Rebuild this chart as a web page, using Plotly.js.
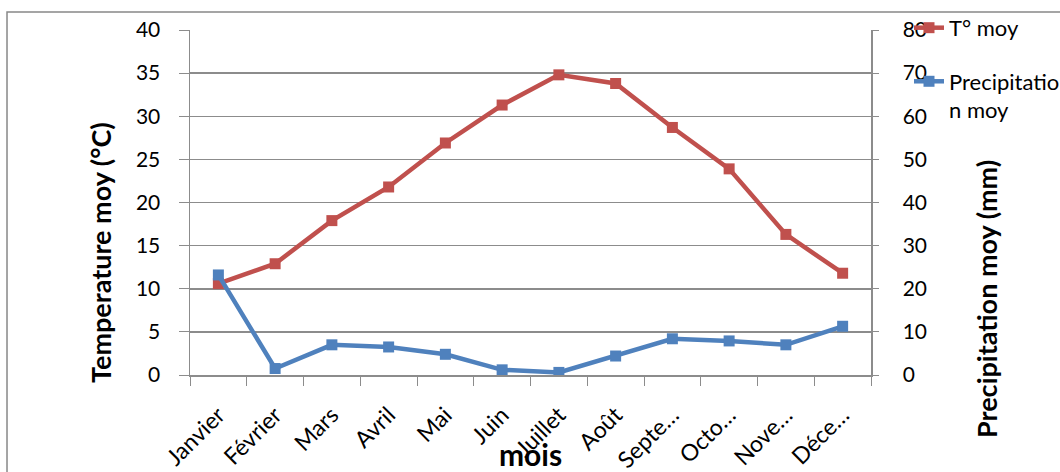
<!DOCTYPE html>
<html><head><meta charset="utf-8">
<script src="https://cdn.plot.ly/plotly-3.0.1.min.js"></script>
<style>html,body{margin:0;padding:0;background:#fff}#c{width:1060px;height:472px}</style>
</head><body><div id="c"></div>
<script>
const months = ["Janvier","Février","Mars","Avril","Mai","Juin","Juillet","Août","Septembre","Octobre","Novembre","Décembre"];
const monthLabels = ["Janvier","Février","Mars","Avril","Mai","Juin","Juillet","Août","Septe…","Octo…","Nove…","Déce…"];
const tempMoy = [10.6, 12.9, 17.9, 21.8, 26.9, 31.3, 34.8, 33.8, 28.7, 23.9, 16.3, 11.8];
const precipMoy = [23.2, 1.5, 7.0, 6.5, 4.8, 1.2, 0.6, 4.4, 8.4, 7.9, 7.0, 11.3];
const leftTicks = [0,5,10,15,20,25,30,35,40];
const rightTicks = [0,10,20,30,40,50,60,70,80];
const leftTitle = "Temperature moy (°C)";
const rightTitle = "Precipitation moy (mm)";
const xTitle = "mois";

const RED = "#C0504D", BLUE = "#4F81BD", GRID = "#8c8c8c";
const FONT = "Lato, 'Open Sans', sans-serif";

const traces = [
  {x: months, y: tempMoy, name: "T° moy", type: "scatter", mode: "lines+markers",
   line: {color: RED, width: 4.5}, marker: {symbol: "square", size: 11, color: RED},
   legendgroup: "a", yaxis: "y"},
  {x: months, y: precipMoy, name: "Precipitatio<br>n moy", type: "scatter", mode: "lines+markers",
   line: {color: BLUE, width: 4.5}, marker: {symbol: "square", size: 11, color: BLUE},
   legendgroup: "b", yaxis: "y2"}
];

const layout = {
  width: 1060, height: 472,
  margin: {l: 190, r: 189, t: 30, b: 97, pad: 0, autoexpand: false},
  paper_bgcolor: "#fff", plot_bgcolor: "#fff",
  font: {family: FONT, size: 21, color: "#000"},
  showlegend: true,
  legend: {x: 1.0558, y: 1.067, xanchor: "left", yanchor: "top", valign: "top",
           traceorder: "grouped", tracegroupgap: 22, font: {size: 22},
           bgcolor: "rgba(0,0,0,0)"},
  xaxis: {type: "category", categoryorder: "array", categoryarray: months,
          tickvals: months, ticktext: monthLabels, tickangle: -45,
          range: [-0.5, 11.5], tickson: "boundaries", ticks: "outside", ticklen: 9,
          tickcolor: GRID, showgrid: false, showline: true, linecolor: GRID, linewidth: 1.5,
          tickfont: {size: 23}, zeroline: false, ticklabelstandoff: 16,
          title: {text: xTitle, font: {size: 30, family: FONT, weight: "bold"}, standoff: 0}},
  yaxis: {range: [0, 40], tickvals: leftTicks, ticks: "outside", ticklen: 10, tickcolor: GRID,
          showgrid: true, gridcolor: GRID, gridwidth: 1.5, showline: true, linecolor: GRID, linewidth: 1.5,
          zeroline: false, tickfont: {size: 21}, ticklabelstandoff: 14},
  yaxis2: {range: [0, 80], tickvals: rightTicks, overlaying: "y", side: "right",
           ticks: "outside", ticklen: 6, tickcolor: GRID, showgrid: false,
           showline: true, linecolor: GRID, linewidth: 1.5, zeroline: false, tickfont: {size: 21},
           ticklabelstandoff: 20},
  annotations: [
    {text: leftTitle, xref: "paper", yref: "paper", x: -0.1322, y: 0.3565, xanchor: "center", yanchor: "middle",
     textangle: -90, showarrow: false, font: {size: 27, family: FONT, weight: "bold", color: "#000"}},
    {text: rightTitle, xref: "paper", yref: "paper", x: 1.1703, y: 0.2203, xanchor: "center", yanchor: "middle",
     textangle: -90, showarrow: false, font: {size: 27, family: FONT, weight: "bold", color: "#000"}}
  ],
  shapes: [{type: "rect", xref: "paper", yref: "paper", x0: -0.2687, x1: 1.3, y0: -0.3, y1: 1.0522,
            line: {color: "#888", width: 1.5}, fillcolor: "rgba(0,0,0,0)", layer: "below"}]
};

Plotly.newPlot("c", traces, layout, {displayModeBar: false, staticPlot: true});
</script></body></html>
